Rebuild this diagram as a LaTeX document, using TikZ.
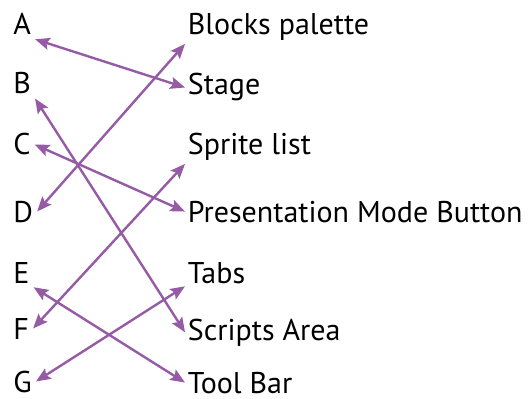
\documentclass[tikz,border=0pt]{standalone}
\usepackage{fontspec}
\setmainfont{PT Sans}
\usetikzlibrary{arrows.meta}
\definecolor{linkpurple}{RGB}{149,91,165}
\begin{document}
\begin{tikzpicture}[x=0.75pt, y=-0.75pt,
               letter_style/.style={anchor=base west, inner sep=3pt, font=\fontsize{22.5}{26}\selectfont},
               label_style/.style={anchor=base west, inner sep=2pt, font=\fontsize{22.5}{26}\selectfont},
               edge_style/.style={draw=linkpurple, line width=1.8pt, {Stealth[length=11pt,width=9pt,inset=2pt]}-{Stealth[length=11pt,width=9pt,inset=2pt]}}]
                \useasboundingbox (0,0) rectangle (528,399);
                \node[letter_style] (A) at (9,35) {A};
                \node[letter_style] (B) at (9,94) {B};
                \node[letter_style] (C) at (9,155) {C};
                \node[letter_style] (D) at (9,222) {D};
                \node[letter_style] (E) at (9,283) {E};
                \node[letter_style] (F) at (9,339) {F};
                \node[letter_style] (G) at (9,392) {G};

                \node[label_style] (blocks) at (185,35) {Blocks palette};
                \node[label_style] (stage) at (185,95) {Stage};
                \node[label_style] (sprites) at (185,155) {Sprite list};
                \node[label_style] (present) at (185,222) {Presentation Mode Button};
                \node[label_style] (tabs) at (185,283) {Tabs};
                \node[label_style] (scripts) at (185,340) {Scripts Area};
                \node[label_style] (toolbar) at (185,393) {Tool Bar};

                \draw[edge_style]  (A.south east) -- (stage.west);
                \draw[edge_style]  (B.south east) -- (scripts.west);
                \draw[edge_style]  (C.east) -- (present.west);
                \draw[edge_style]  (D.east) -- (blocks.south west);
                \draw[edge_style]  (E.south east) -- (toolbar.west);
                \draw[edge_style]  (F.east) -- (sprites.south west);
                \draw[edge_style]  (G.east) -- (tabs.south west);
            \end{tikzpicture}
\end{document}
